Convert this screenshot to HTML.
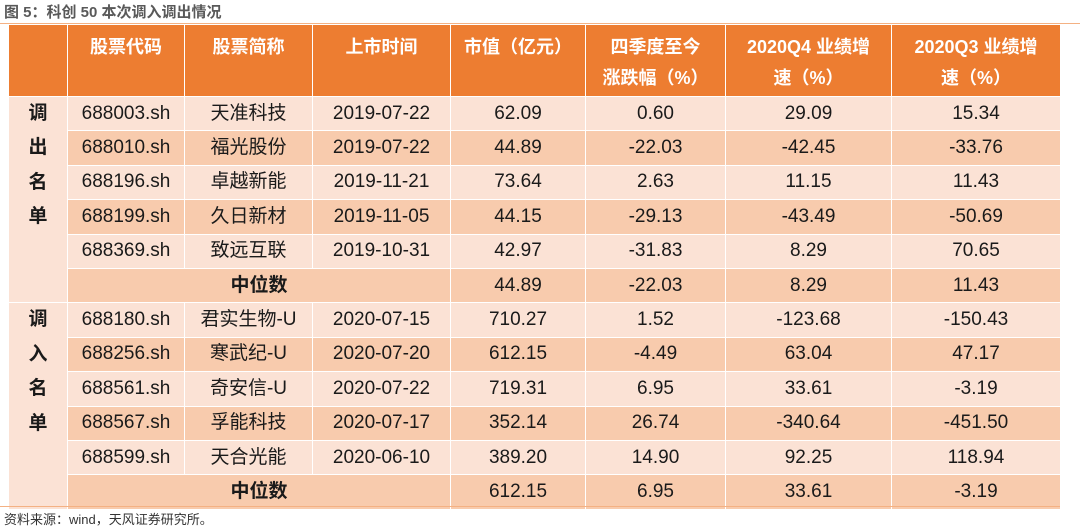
<!DOCTYPE html>
<html><head><meta charset="utf-8"><style>
body{margin:0;width:1080px;height:528px;background:#fff;font-family:"Liberation Sans","Noto Sans CJK SC",sans-serif;position:relative;overflow:hidden}
#title{position:absolute;left:4px;top:1px;font-size:15px;font-weight:bold;color:#595959}
#topline{position:absolute;left:0;top:23px;width:1080px;height:1px;background:#f4b183}
table{position:absolute;left:8px;top:24px;width:1052px;border-collapse:collapse;table-layout:fixed}
td,th{border:1px solid #fff;text-align:center;font-size:19px;color:#1a1a1a;padding:0;height:33.4px;line-height:20px}
th{background:#ed7d31;color:#fff;font-weight:bold;height:59px;vertical-align:top;padding-top:7px;padding-bottom:2px;line-height:31px;font-size:18px}
tr.l td{background:#fbe2d5}
tr.d td{background:#f8cbad}
td.cat{background:#fbe2d5 !important;font-weight:bold;line-height:34.4px;vertical-align:top}
td.med{font-weight:bold}
#bottomline{position:absolute;left:0;top:506px;width:1060px;height:1px;background:#f4b183}
#src{position:absolute;left:4px;top:509px;font-size:13px;color:#333}
</style></head><body>
<div id="title">图 5：科创 50 本次调入调出情况</div>
<div id="topline"></div>
<table>
<colgroup><col style="width:59px"><col style="width:117px"><col style="width:128px"><col style="width:138px"><col style="width:135px"><col style="width:140px"><col style="width:166px"><col style="width:169px"></colgroup>
<tr><th></th><th>股票代码</th><th>股票简称</th><th>上市时间</th><th>市值（亿元）</th><th>四季度至今<br>涨跌幅（%）</th><th>2020Q4 业绩增<br>速（%）</th><th>2020Q3 业绩增<br>速（%）</th></tr>
<tr class="l"><td class="cat" rowspan="6">调<br>出<br>名<br>单</td><td>688003.sh</td><td>天准科技</td><td>2019-07-22</td><td>62.09</td><td>0.60</td><td>29.09</td><td>15.34</td></tr>
<tr class="d"><td>688010.sh</td><td>福光股份</td><td>2019-07-22</td><td>44.89</td><td>-22.03</td><td>-42.45</td><td>-33.76</td></tr>
<tr class="l"><td>688196.sh</td><td>卓越新能</td><td>2019-11-21</td><td>73.64</td><td>2.63</td><td>11.15</td><td>11.43</td></tr>
<tr class="d"><td>688199.sh</td><td>久日新材</td><td>2019-11-05</td><td>44.15</td><td>-29.13</td><td>-43.49</td><td>-50.69</td></tr>
<tr class="l"><td>688369.sh</td><td>致远互联</td><td>2019-10-31</td><td>42.97</td><td>-31.83</td><td>8.29</td><td>70.65</td></tr>
<tr class="d"><td colspan="3" class="med">中位数</td><td>44.89</td><td>-22.03</td><td>8.29</td><td>11.43</td></tr>
<tr class="l"><td class="cat" rowspan="6">调<br>入<br>名<br>单</td><td>688180.sh</td><td>君实生物-U</td><td>2020-07-15</td><td>710.27</td><td>1.52</td><td>-123.68</td><td>-150.43</td></tr>
<tr class="d"><td>688256.sh</td><td>寒武纪-U</td><td>2020-07-20</td><td>612.15</td><td>-4.49</td><td>63.04</td><td>47.17</td></tr>
<tr class="l"><td>688561.sh</td><td>奇安信-U</td><td>2020-07-22</td><td>719.31</td><td>6.95</td><td>33.61</td><td>-3.19</td></tr>
<tr class="d"><td>688567.sh</td><td>孚能科技</td><td>2020-07-17</td><td>352.14</td><td>26.74</td><td>-340.64</td><td>-451.50</td></tr>
<tr class="l"><td>688599.sh</td><td>天合光能</td><td>2020-06-10</td><td>389.20</td><td>14.90</td><td>92.25</td><td>118.94</td></tr>
<tr class="d"><td colspan="3" class="med">中位数</td><td>612.15</td><td>6.95</td><td>33.61</td><td>-3.19</td></tr>
</table>
<div id="bottomline"></div>
<div id="src">资料来源：wind，天风证券研究所。</div>
</body></html>
